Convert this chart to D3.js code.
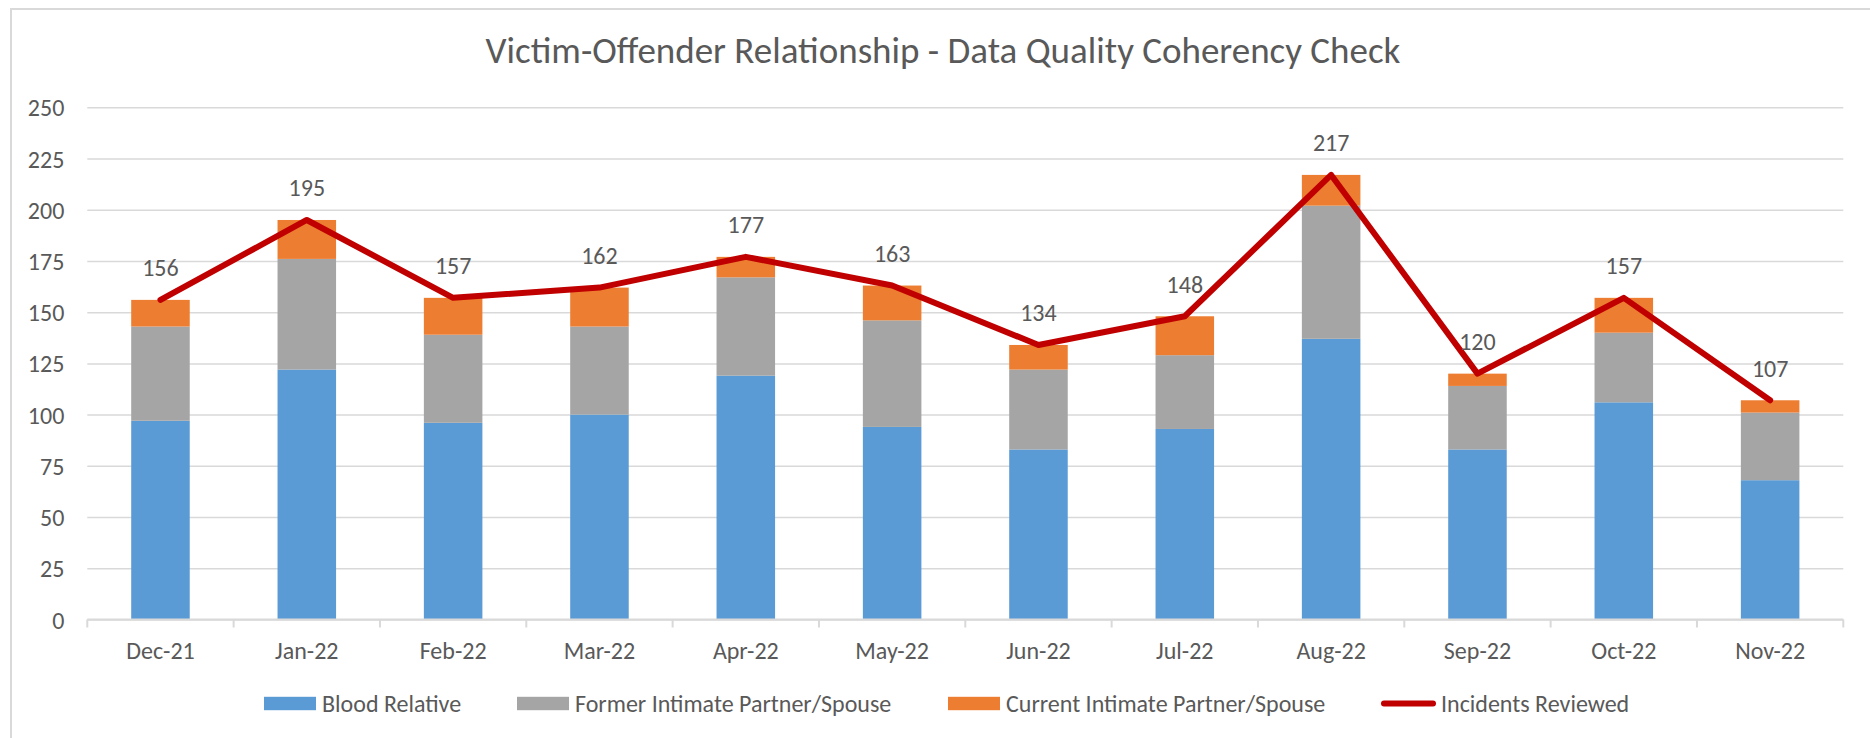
<!DOCTYPE html>
<html lang="en">

<head>
    <meta charset="UTF-8">
    <title>Victim-Offender Relationship - Data Quality Coherency Check</title>
    <style>
        body {
            margin: 0;
            background: #fff;
        }

        svg text {
            font-family: Calibri, Carlito, Lato, sans-serif;
            fill: #595959;
        }

        .grid line {
            stroke: #d9d9d9;
            stroke-width: 1.5px;
        }

        .grid path {
            display: none;
        }
    </style>
</head>

<body>
    <div id="chart"></div>

    <script src="https://d3js.org/d3.v7.min.js"></script>
    <script>
        // values
        const months = ["Dec-21", "Jan-22", "Feb-22", "Mar-22", "Apr-22", "May-22",
            "Jun-22", "Jul-22", "Aug-22", "Sep-22", "Oct-22", "Nov-22"];
        const bloodRelative = [97, 122, 96, 100, 119, 94, 83, 93, 137, 83, 106, 68];
        const formerPartner = [46, 54, 43, 43, 48, 52, 39, 36, 65, 31, 34, 33];
        const currentPartner = [13, 19, 18, 19, 10, 17, 12, 19, 15, 6, 17, 6];
        const incidentsReviewed = [156, 195, 157, 162, 177, 163, 134, 148, 217, 120, 157, 107];
        const yTicks = [0, 25, 50, 75, 100, 125, 150, 175, 200, 225, 250];

        const seriesNames = ["Blood Relative", "Former Intimate Partner/Spouse", "Current Intimate Partner/Spouse"];
        const seriesColors = ["#5b9bd5", "#a5a5a5", "#ed7d31"];
        const lineName = "Incidents Reviewed";
        const lineColor = "#c00000";

        const W = 1870, H = 738;
        const margin = { top: 107.3, right: 26.7, bottom: 118.5, left: 87.3 };
        const width = W - margin.left - margin.right,
            height = H - margin.top - margin.bottom;
        const fontSize = "24px";

        const svg = d3.select("#chart").append("svg")
            .attr("width", W)
            .attr("height", H);

        // chart area border (runs off the right and bottom edge)
        svg.append("rect")
            .attr("x", 11).attr("y", 9)
            .attr("width", W + 20).attr("height", H + 20)
            .attr("fill", "none")
            .attr("stroke", "#d9d9d9")
            .attr("stroke-width", 2);

        svg.append("text")
            .attr("x", 943)
            .attr("y", 63)
            .attr("text-anchor", "middle")
            .style("font-size", "37px")
            .text("Victim-Offender Relationship - Data Quality Coherency Check");

        const g = svg.append("g")
            .attr("transform", "translate(" + margin.left + "," + margin.top + ")");

        const x = d3.scaleBand()
            .domain(months)
            .range([0, width])
            .paddingInner(0.6)
            .paddingOuter(0.3);

        const y = d3.scaleLinear()
            .domain([0, 250])
            .range([height, 0]);

        // gridlines + y labels
        const yAxis = g.append("g")
            .attr("class", "grid")
            .call(d3.axisLeft(y).tickValues(yTicks).tickSize(-width).tickPadding(23));
        yAxis.selectAll("text")
            .attr("dy", null)
            .attr("dominant-baseline", "central")
            .style("font-size", fontSize);

        // stacked bars
        const table = months.map((m, i) => ({
            month: m,
            blood: bloodRelative[i],
            former: formerPartner[i],
            current: currentPartner[i]
        }));
        const stacked = d3.stack().keys(["blood", "former", "current"])(table);

        g.selectAll(".series")
            .data(stacked)
            .enter().append("g")
            .attr("class", "series")
            .attr("fill", (d, i) => seriesColors[i])
            .selectAll("rect")
            .data(d => d)
            .enter().append("rect")
            .attr("x", d => x(d.data.month))
            .attr("y", d => y(d[1]))
            .attr("width", x.bandwidth())
            .attr("height", d => y(d[0]) - y(d[1]));

        // category axis line and boundary ticks
        g.append("line")
            .attr("x1", 0).attr("x2", width)
            .attr("y1", height).attr("y2", height)
            .attr("stroke", "#d9d9d9")
            .attr("stroke-width", 2);
        g.selectAll(".cat-tick")
            .data(d3.range(months.length + 1))
            .enter().append("line")
            .attr("class", "cat-tick")
            .attr("x1", i => i * x.step()).attr("x2", i => i * x.step())
            .attr("y1", height).attr("y2", height + 8)
            .attr("stroke", "#d9d9d9")
            .attr("stroke-width", 2);

        const xAxis = g.append("g")
            .attr("transform", "translate(0," + height + ")")
            .call(d3.axisBottom(x).tickSize(0).tickPadding(0));
        xAxis.select(".domain").remove();
        xAxis.selectAll("text")
            .attr("y", 31.2)
            .attr("dy", null)
            .attr("dominant-baseline", "central")
            .style("font-size", fontSize);

        // incidents line
        const cx = d => x(d.month) + x.bandwidth() / 2;
        const points = months.map((m, i) => ({ month: m, value: incidentsReviewed[i] }));

        g.append("path")
            .datum(points)
            .attr("fill", "none")
            .attr("stroke", lineColor)
            .attr("stroke-width", 6)
            .attr("stroke-linejoin", "round")
            .attr("stroke-linecap", "round")
            .attr("d", d3.line().x(cx).y(d => y(d.value)));

        g.selectAll(".value-label")
            .data(points)
            .enter().append("text")
            .attr("class", "value-label")
            .attr("x", cx)
            .attr("y", d => y(d.value) - 32)
            .attr("text-anchor", "middle")
            .attr("dominant-baseline", "central")
            .style("font-size", fontSize)
            .text(d => d.value);

        // legend
        const legendY = 703.5;
        const swatchX = [264, 517, 948];
        const legend = svg.append("g");
        seriesNames.forEach((name, i) => {
            legend.append("rect")
                .attr("x", swatchX[i]).attr("y", legendY - 6.7)
                .attr("width", 52).attr("height", 13.4)
                .attr("fill", seriesColors[i]);
            legend.append("text")
                .attr("x", swatchX[i] + 58)
                .attr("y", legendY)
                .attr("dominant-baseline", "central")
                .style("font-size", fontSize)
                .text(name);
        });
        legend.append("line")
            .attr("x1", 1384).attr("x2", 1433)
            .attr("y1", legendY).attr("y2", legendY)
            .attr("stroke", lineColor)
            .attr("stroke-width", 6)
            .attr("stroke-linecap", "round");
        legend.append("text")
            .attr("x", 1441)
            .attr("y", legendY)
            .attr("dominant-baseline", "central")
            .style("font-size", fontSize)
            .text(lineName);
    </script>
</body>

</html>
